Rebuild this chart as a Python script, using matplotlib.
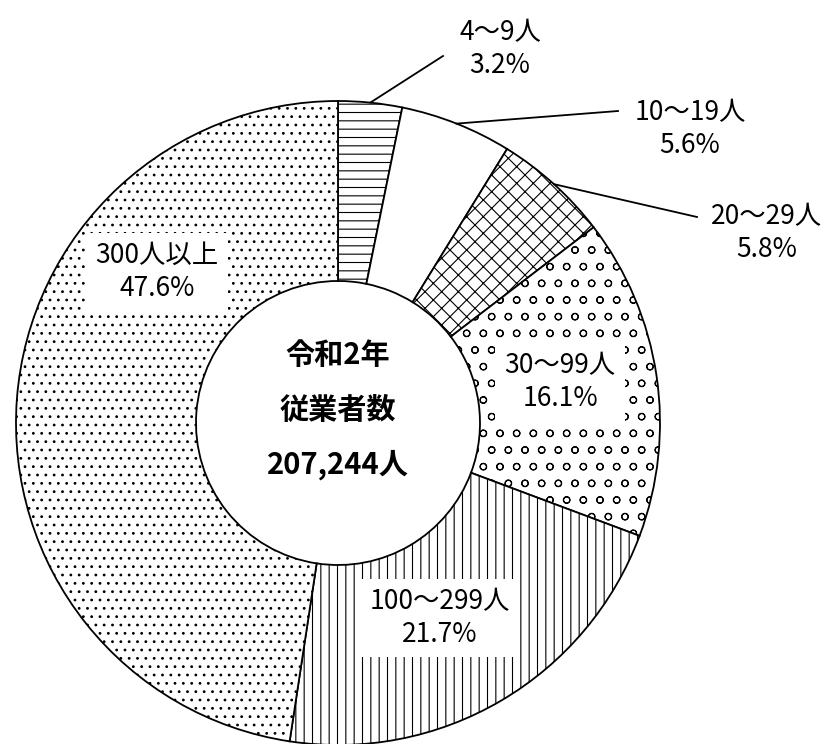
import numpy as np
import matplotlib.pyplot as plt

plt.rcParams['font.family'] = ['Noto Sans CJK JP', 'DejaVu Sans']
plt.rcParams['hatch.linewidth'] = 0.8

# === Daten ================================================================
groups = ['4～9人', '10～19人', '20～29人', '30～99人', '100～299人', '300人以上']
shares = [3.2, 5.6, 5.8, 16.1, 21.7, 47.6]
center_lines = ['令和2年', '従業者数', '207,244人']

# === Layout (Pixelkoordinaten, y nach unten) ==============================
cx, cy = 338, 423
R_out, R_in = 322, 142
hatches = ['--', '', 'xx', 'o', '||', '..']

# Beschriftungen außen: (Endpunkt Linie, Textmitte)
outside = {
    0: ((443, 56), (500, 49)),
    1: ((618, 111), (690, 129)),
    2: ((697, 217), (767, 233)),
}
# Beschriftungen innen: Textmitte
inside = {
    3: (560, 382),
    4: (440, 618),
    5: (157, 272),
}

fig = plt.figure(figsize=(8.32, 7.44), dpi=100)
ax = fig.add_axes([0, 0, 1, 1])

wedges, _ = ax.pie(shares, radius=R_out, center=(cx, cy), startangle=-90,
                   counterclock=True,
                   wedgeprops=dict(width=R_out - R_in, edgecolor='black',
                                   linewidth=1.3, facecolor='white'))
for w, h in zip(wedges, hatches):
    w.set_hatch(h)

ax.set_xlim(0, 832)
ax.set_ylim(744, 0)
ax.set_aspect('equal')
ax.axis('off')

# Winkel der Segmentmitten (im Uhrzeigersinn ab 12 Uhr)
cum = np.cumsum([0] + shares)
mid = (cum[:-1] + cum[1:]) / 2 / 100 * 2 * np.pi

for i, ((ex, ey), (tx, ty)) in outside.items():
    sx = cx + R_out * np.sin(mid[i])
    sy = cy - R_out * np.cos(mid[i])
    ax.plot([sx, ex], [sy, ey], color='black', lw=1.3)
    ax.text(tx, ty, f"{groups[i]}\n{shares[i]:.1f}%", ha='center', va='center',
            fontsize=19, linespacing=1.3)

for i, (tx, ty) in inside.items():
    ax.text(tx, ty, f"{groups[i]}\n{shares[i]:.1f}%", ha='center', va='center',
            fontsize=19, linespacing=1.3,
            bbox=dict(boxstyle='square,pad=0.35', facecolor='white', edgecolor='none'))

for k, line in enumerate(center_lines):
    ax.text(cx, 355 + 55 * k, line, ha='center', va='center',
            fontsize=21, fontweight='bold')

fig.savefig('out.png', dpi=100, facecolor='white')
